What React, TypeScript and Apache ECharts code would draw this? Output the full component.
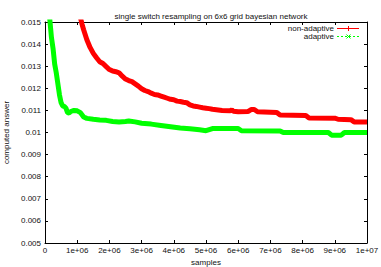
import React, { useEffect, useRef } from "react";
import * as echarts from "echarts";

// samples (in units of 1e6) and computed answers
const nonAdaptiveSamples = [
  1.1, 1.15, 1.2, 1.3, 1.4, 1.5, 1.6, 1.7, 1.8, 1.9, 2.0, 2.1, 2.2, 2.3, 2.4, 2.5, 2.6, 2.7, 2.8, 2.9,
  3.0, 3.1, 3.2, 3.3, 3.4, 3.5, 3.6, 3.7, 3.8, 3.9, 4.0, 4.1, 4.2, 4.3, 4.4, 4.5, 4.6, 4.7, 4.8, 4.9,
  5.0, 5.1, 5.2, 5.5, 5.75, 5.8, 5.85, 6.0, 6.3, 6.4, 6.5, 6.6, 7.0, 7.2, 7.3, 8.1, 8.2, 9.0, 9.1, 9.5,
  9.6, 10.0,
];
const nonAdaptiveValues = [
  0.0152, 0.0149, 0.01465, 0.0142, 0.01385, 0.01358, 0.01338, 0.0132, 0.01312, 0.01298, 0.01285,
  0.01278, 0.01275, 0.0127, 0.01255, 0.01242, 0.01235, 0.0123, 0.0122, 0.0121, 0.01198, 0.0119,
  0.01185, 0.01178, 0.01172, 0.0117, 0.01165, 0.0116, 0.01155, 0.0115, 0.01148, 0.01142, 0.0114,
  0.01137, 0.01135, 0.01125, 0.0112, 0.01118, 0.01115, 0.01112, 0.0111, 0.01108, 0.01105, 0.011,
  0.01098, 0.01103, 0.01096, 0.01094, 0.01095, 0.01104, 0.01104, 0.01094, 0.01092, 0.0109, 0.01079,
  0.01077, 0.01066, 0.01065, 0.0106, 0.01058, 0.01048, 0.01047,
];

const adaptiveSamples = [
  0.1, 0.15, 0.2, 0.25, 0.3, 0.35, 0.4, 0.45, 0.5, 0.55, 0.6, 0.65, 0.7, 0.75, 0.8, 0.9, 1.0, 1.1,
  1.2, 1.3, 1.5, 1.7, 1.9, 2.1, 2.3, 2.5, 2.6, 2.8, 3.0, 3.3, 3.6, 3.9, 4.2, 4.5, 4.8, 5.0, 5.2, 6.0,
  6.1, 7.3, 7.4, 8.8, 8.9, 9.2, 9.3, 10.0,
];
const adaptiveValues = [
  0.0158, 0.0151, 0.0143, 0.0138, 0.0131, 0.0127, 0.0122, 0.0117, 0.01135, 0.0112, 0.01118, 0.0111,
  0.0109, 0.01088, 0.01095, 0.011, 0.01098, 0.0109, 0.0107, 0.01064, 0.0106, 0.01057, 0.01055,
  0.0105, 0.01048, 0.0105, 0.01052, 0.01048, 0.01042, 0.01038, 0.01032, 0.01026, 0.0102, 0.01017,
  0.01012, 0.01008, 0.01018, 0.01018, 0.01008, 0.01007, 0.01, 0.01, 0.00988, 0.00988, 0.01, 0.01,
];

const titleText = "single switch resampling on 6x6 grid bayesian network";
const xName = "samples";
const yName = "computed answer";
const legendNames = ["non-adaptive", "adaptive"];

const FONT = "'Liberation Sans', Arial, Helvetica, sans-serif";

function expLabel(v: number): string {
  if (v === 0) return "0";
  const e = Math.floor(Math.log10(v) + 1e-9);
  const m = Math.round((v / Math.pow(10, e)) * 1000) / 1000;
  return `${m}e+${e < 10 ? "0" + e : e}`;
}

export default function App() {
  const ref = useRef<HTMLDivElement>(null);
  useEffect(() => {
    if (!ref.current) return;
    const chart = echarts.init(ref.current, undefined, { renderer: "svg" });
    const axisLine = { show: true, onZero: false, lineStyle: { color: "#000", width: 1 } };
    const tick = { show: true, inside: true, length: 3, lineStyle: { color: "#000" } };
    const labelStyle = { color: "#111", fontSize: 8, fontFamily: FONT };
    const xBase = {
      type: "value" as const,
      min: 0,
      max: 10000000,
      interval: 1000000,
      axisLine,
      axisTick: tick,
      splitLine: { show: false },
    };
    const yBase = {
      type: "value" as const,
      min: 0.005,
      max: 0.015,
      interval: 0.001,
      axisLine,
      axisTick: tick,
      splitLine: { show: false },
    };
    chart.setOption({
      animation: false,
      backgroundColor: "#fff",
      title: {
        text: titleText,
        left: 206,
        top: 7,
        textAlign: "center",
        textStyle: { fontSize: 8, fontWeight: "normal", color: "#111", fontFamily: FONT },
      },
      grid: { left: 45, right: 14, top: 22, bottom: 24, containLabel: false, outerBoundsMode: "none" },
      xAxis: [
        {
          ...xBase,
          position: "bottom",
          name: xName,
          nameLocation: "middle",
          nameGap: 15,
          nameTextStyle: { ...labelStyle },
          axisLabel: { ...labelStyle, margin: 3, formatter: (v: number) => expLabel(v) },
        },
        { ...xBase, position: "top", axisLabel: { show: false } },
      ],
      yAxis: [
        {
          ...yBase,
          position: "left",
          name: yName,
          nameLocation: "middle",
          nameGap: 35,
          nameTextStyle: { ...labelStyle },
          axisLabel: {
            ...labelStyle,
            margin: 4,
            formatter: (v: number) => String(parseFloat(v.toFixed(4))),
          },
        },
        { ...yBase, position: "right", axisLabel: { show: false } },
      ],
      series: [
        {
          name: legendNames[0],
          type: "line",
          showSymbol: false,
          symbol: "none",
          clip: true,
          lineStyle: { color: "#ff0000", width: 5 },
          data: nonAdaptiveSamples.map((s, i) => [s * 1e6, nonAdaptiveValues[i]]),
        },
        {
          name: legendNames[1],
          type: "line",
          showSymbol: false,
          symbol: "none",
          clip: true,
          lineStyle: { color: "#00ff00", width: 5 },
          data: adaptiveSamples.map((s, i) => [s * 1e6, adaptiveValues[i]]),
        },
      ],
      graphic: [
        {
          type: "text",
          x: 334,
          y: 28,
          style: {
            text: legendNames[0],
            fontSize: 8,
            fill: "#111",
            fontFamily: FONT,
            align: "right",
            verticalAlign: "middle",
          },
        },
        {
          type: "text",
          x: 334,
          y: 36.5,
          style: {
            text: legendNames[1],
            fontSize: 8,
            fill: "#111",
            fontFamily: FONT,
            align: "right",
            verticalAlign: "middle",
          },
        },
        { type: "rect", shape: { x: 337, y: 28, width: 22, height: 1 }, style: { fill: "#ff0000" } },
        { type: "rect", shape: { x: 348, y: 26, width: 1, height: 5 }, style: { fill: "#ff0000" } },
        {
          type: "line",
          shape: { x1: 337, y1: 36.5, x2: 359, y2: 36.5 },
          style: { stroke: "#00ff00", lineWidth: 1, lineDash: [2, 2], fill: null },
        },
        { type: "line", shape: { x1: 346.5, y1: 34.5, x2: 350.5, y2: 38.5 }, style: { stroke: "#00ff00", lineWidth: 1, fill: null } },
        { type: "line", shape: { x1: 346.5, y1: 38.5, x2: 350.5, y2: 34.5 }, style: { stroke: "#00ff00", lineWidth: 1, fill: null } },
      ],
    });
    return () => chart.dispose();
  }, []);
  return (
    <div
      ref={ref}
      style={{ position: "fixed", left: 0, top: 0, width: 381, height: 267, background: "#fff" }}
    />
  );
}
